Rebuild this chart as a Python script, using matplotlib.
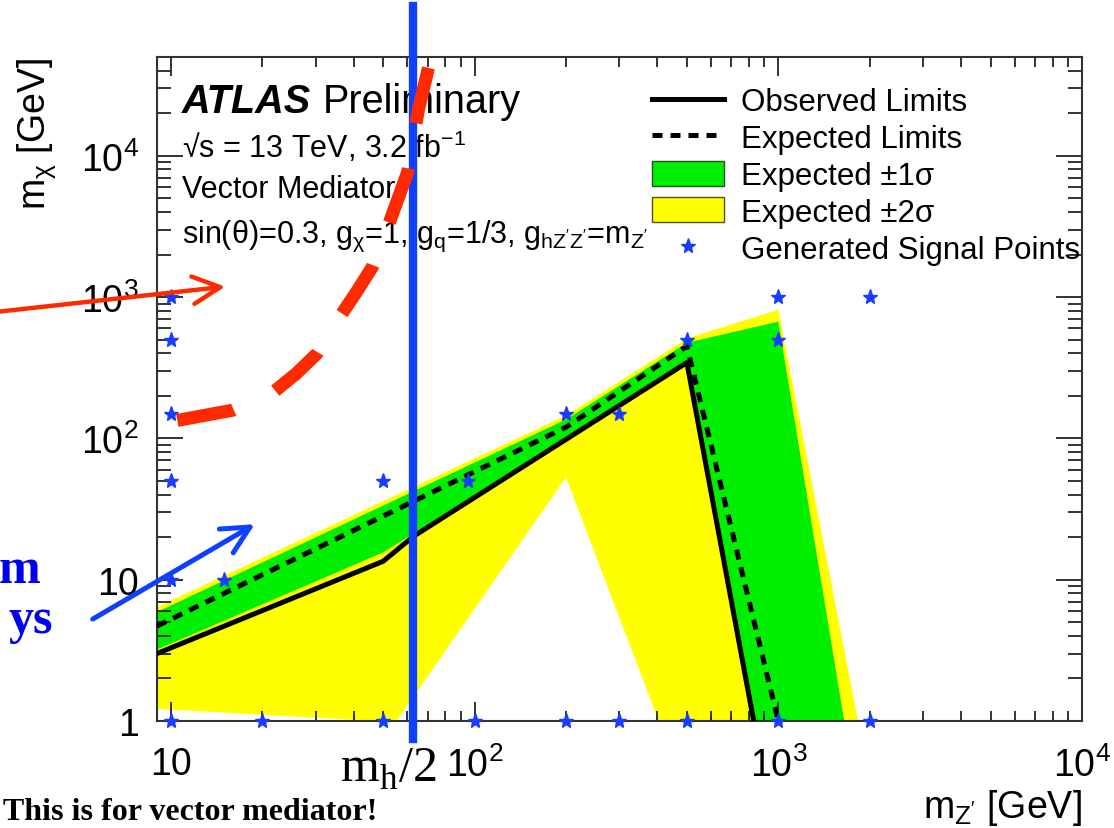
import matplotlib
matplotlib.use('Agg')
import matplotlib.pyplot as plt
from matplotlib.lines import Line2D
from matplotlib.patches import Patch

# ---- data ----
obs_x = [9, 50, 63, 500, 830]
obs_y = [3.0, 13.5, 20.3, 344, 1.0]

exp_x = [9, 200, 500, 1000]
exp_y = [4.7, 120, 450, 1.0]

# +-1 sigma contour (upper edge left->right, then lower edge right->left)
band1_x = [9, 200, 500, 1000, 1808, 900, 500, 200, 50, 9]
band1_y = [5.9, 136, 475, 670, 0.3, 0.3, 344, 100, 15.6, 3.2]

# +-2 sigma contour
band2_x = [9, 50, 200, 500, 1000, 2040, 500, 200, 55, 9]
band2_y = [6.4, 35.9, 145, 509, 815, 0.3, 0.3, 53, 0.98, 1.22]

sig_x = [10, 10, 10, 10, 10, 10, 15, 20, 50, 50, 95, 100, 200, 200,
         300, 300, 500, 500, 1000, 1000, 1000, 2000, 2000]
sig_y = [1, 10, 50, 150, 500, 1000, 10, 1, 1, 50, 50, 1, 1, 150,
         1, 150, 1, 500, 1, 500, 1000, 1, 1000]

mh_half = 125 / 2

# hand-drawn annotations (data coords)
red_curve_x = [10.5, 15.9, 21.9, 25.9, 30.3, 36.4, 41.1, 46.1, 52.4, 60.1, 65.3, 70.5]
red_curve_y = [134, 158, 215, 288, 399, 752, 1110, 1640, 3360, 7590, 21100, 41900]
red_arrow = [(2.73, 790), (15.1, 1186)]
blue_arrow = [(5.53, 5.26), (18.9, 24.7)]

xticks = [10, 100, 1000, 10000]
xticklabels = ['10', '$10^{2}$', '$10^{3}$', '$10^{4}$']
yticks = [1, 10, 100, 1000, 10000]
yticklabels = ['1', '10', '$10^{2}$', '$10^{3}$', '$10^{4}$']

GREEN = '#00ee00'
YELLOW = '#ffff00'
STAR = '#1a3cff'
BLUE = '#1040ff'
RED = '#ff2a00'

plt.rcParams['font.family'] = 'Liberation Sans'
plt.rcParams['mathtext.fontset'] = 'custom'
plt.rcParams['mathtext.rm'] = 'Liberation Sans'
plt.rcParams['mathtext.it'] = 'Liberation Sans:italic'
plt.rcParams['mathtext.bf'] = 'Liberation Sans:bold'

fig = plt.figure(figsize=(11.14, 8.29), dpi=100)
ax = fig.add_axes([0.1409, 0.1291, 0.8304, 0.8009])

ax.fill(band2_x, band2_y, color=YELLOW, lw=0, zorder=1)
ax.fill(band1_x, band1_y, color=GREEN, lw=0, zorder=1.5)
ax.plot(obs_x, obs_y, color='k', lw=3.6, zorder=3)
ax.plot(exp_x, exp_y, color='k', lw=3.6, ls=(0, (2.0, 1.6)), zorder=3)
ax.plot(sig_x, sig_y, ls='none', marker='*', ms=11, color=STAR, mec=STAR, zorder=4, clip_on=False)

ax.set_xscale('log')
ax.set_yscale('log')
ax.set_xlim(9, 10000)
ax.set_ylim(1, 50000)
ax.set_xticks(xticks, xticklabels)
ax.set_yticks(yticks, yticklabels)
ax.xaxis.set_minor_formatter(matplotlib.ticker.NullFormatter())
ax.yaxis.set_minor_formatter(matplotlib.ticker.NullFormatter())
ax.tick_params(which='both', direction='in', top=True, right=True, width=1.4, color='#333333')
ax.tick_params(axis='x', which='major', length=14, pad=18, labelsize=27)
ax.tick_params(axis='x', which='minor', length=7.5)
ax.tick_params(axis='y', which='major', length=19, pad=13, labelsize=27)
ax.tick_params(axis='y', which='minor', length=10)
for s in ax.spines.values():
    s.set_linewidth(1.5)
    s.set_color('#333333')

ax.set_xlabel(r"m$_{\mathregular{Z'}}$ [GeV]", fontsize=27, loc='right')
ax.xaxis.set_label_coords(1.0, -0.10)
ax.set_ylabel(r"m$_{\mathregular{\chi}}$ [GeV]", fontsize=27, loc='top')
ax.yaxis.set_label_coords(-0.107, 1.0)

# ATLAS labels
ax.text(0.027, 0.917, 'ATLAS', transform=ax.transAxes, fontsize=28.5,
        fontweight='bold', fontstyle='italic', va='baseline')
ax.text(0.1795, 0.917, 'Preliminary', transform=ax.transAxes, fontsize=28.5, va='baseline')
ax.text(0.027, 0.849, r'√s = 13 TeV, 3.2 fb$^{\mathregular{-1}}$', transform=ax.transAxes,
        fontsize=22, va='baseline')
ax.text(0.027, 0.789, 'Vector Mediator', transform=ax.transAxes, fontsize=22, va='baseline')
ax.text(0.027, 0.721,
        r"sin($\mathregular{\theta}$)=0.3, g$_{\mathregular{\chi}}$=1, g$_{\mathregular{q}}$=1/3, "
        r"g$_{\mathregular{hZ'Z'}}$=m$_{\mathregular{Z'}}$",
        transform=ax.transAxes, fontsize=22, va='baseline')

handles = [Line2D([], [], color='k', lw=3.6),
           Line2D([], [], color='k', lw=3.6, ls=(0, (2.0, 1.6))),
           Patch(facecolor=GREEN, edgecolor='#225522', lw=1),
           Patch(facecolor=YELLOW, edgecolor='#555500', lw=1),
           Line2D([], [], ls='none', marker='*', ms=11, color=STAR)]
labels = ['Observed Limits', 'Expected Limits', 'Expected ±1σ', 'Expected ±2σ',
          'Generated Signal Points']
ax.legend(handles, labels, loc='upper left', bbox_to_anchor=(0.535, 0.955),
          frameon=False, fontsize=22.5, handlelength=2.3, handleheight=0.85,
          handletextpad=0.55, labelspacing=0.21, borderpad=0, borderaxespad=0)

# overlays
ax.plot([mh_half, mh_half], [-0.027, 1.077], transform=ax.get_xaxis_transform(),
        color=BLUE, lw=6, clip_on=False, zorder=6)
ax.text(75, -0.09, r'm$_{\mathregular{h}}$/2', transform=ax.get_xaxis_transform(),
        family='Liberation Serif', fontsize=36, ha='right', va='baseline')
ax.plot(red_curve_x, red_curve_y, color=RED, lw=9.4, ls=(0, (4.4, 3.5)),
        clip_on=False, zorder=6)
ax.annotate('', xy=red_arrow[1], xytext=red_arrow[0], annotation_clip=False,
            arrowprops=dict(arrowstyle='->,head_length=0.9,head_width=0.45',
                            mutation_scale=22, lw=3.2, color=RED, shrinkA=0, shrinkB=0),
            zorder=6)
ax.annotate('', xy=blue_arrow[1], xytext=blue_arrow[0], annotation_clip=False,
            arrowprops=dict(arrowstyle='->,head_length=0.9,head_width=0.45',
                            mutation_scale=22, lw=3.6, color=BLUE, shrinkA=0, shrinkB=0),
            zorder=6)

# visible pieces of the cut-off blue note at the left edge
fig.text(0.0359, 0.2967, 'm', family='Liberation Serif', fontweight='bold',
         fontsize=36, color='#0000ee', ha='right', va='baseline')
fig.text(0.0476, 0.2364, 'ys', family='Liberation Serif', fontweight='bold',
         fontsize=36, color='#0000ee', ha='right', va='baseline')
fig.text(0.003, 0.002, 'This is for vector mediator!', family='Liberation Serif',
         fontweight='bold', fontsize=23, ha='left', va='bottom')

fig.savefig('out.png', dpi=100)
